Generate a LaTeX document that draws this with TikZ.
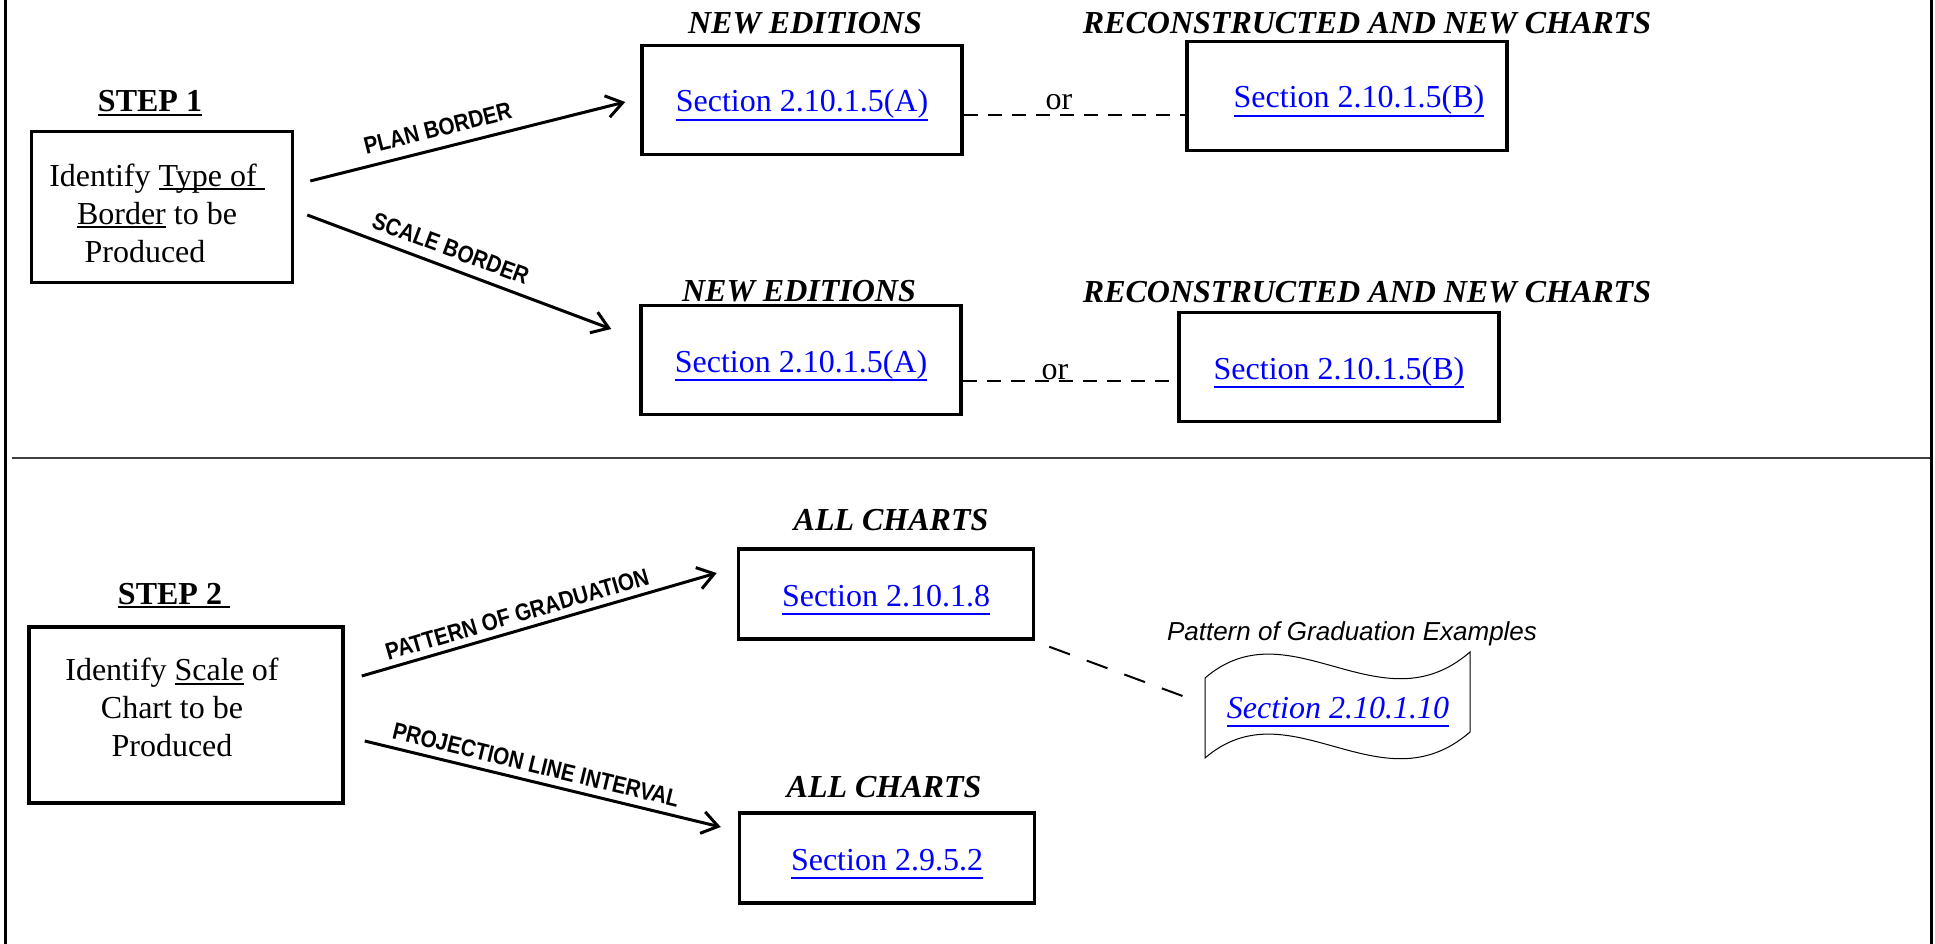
\documentclass[tikz,border=0pt]{standalone}
\usepackage{fontspec}
\setmainfont{Liberation Serif}
\newfontfamily\arrowfont[FakeStretch=0.86]{Liberation Sans}
\newfontfamily\notefont{Liberation Sans}
\usepackage{tikz}
\usetikzlibrary{arrows.meta}

\definecolor{linkblue}{RGB}{0,0,255}
\newcommand{\undl}[2][4pt]{\leavevmode\setbox0=\hbox{#2}\rlap{\rule[-#1]{\wd0}{1.8pt}}\box0\relax}
\newcommand{\seclink}[1]{\textcolor{linkblue}{\undl[9pt]{#1}}}

\begin{document}
\begin{tikzpicture}[x=1pt,y=-1pt,
    secbox/.style={draw,line width=3.5pt,minimum width=320pt,minimum height=109pt,
      text height=27pt,text depth=3pt,font=\fontsize{32}{38}\selectfont},
    smallbox/.style={secbox,minimum width=295pt,minimum height=90pt},
    stepbox/.style={draw,line width=3.5pt},
    steptext/.style={align=center,text depth=0pt,font=\fontsize{32}{38}\selectfont},
    head/.style={anchor=base,font=\fontsize{32}{38}\selectfont\bfseries\itshape},
    steplabel/.style={anchor=base,font=\fontsize{32}{38}\selectfont\bfseries},
    flow/.style={line width=3pt,-{Straight Barb[length=16pt,width=22pt]}},
    lbl/.style={sloped,above=#1,inner sep=0pt,font=\arrowfont\bfseries\fontsize{24}{24}\selectfont},
    lbl/.default=8pt,
    orline/.style={line width=2pt,dash pattern=on 14pt off 10pt}]

  \useasboundingbox (0,0) rectangle (1935,944);

  % frame
  \draw[line width=3pt] (5,0) -- (5,944) (1931,0) -- (1931,944);
  \draw[line width=1.5pt,black!75] (12,458) -- (1930,458);

  % step 1
  \node[steplabel] (s1) at (150,112) {\undl{STEP 1}};
  \node[stepbox,minimum width=261pt,minimum height=151pt] (step1) at (162,207) {};
  \node[steptext,text height=110pt] (step1txt) at ([xshift=-5pt]step1.center)
    {Identify \undl{Type of\ }\\\undl{Border} to be\\Produced\hspace*{24pt}};

  \node[secbox] (secA1) at (802,100) {\seclink{Section 2.10.1.5(A)}};
  \node[secbox] (secB1) at (1347,96) {\hspace{24pt}\seclink{Section 2.10.1.5(B)}};
  \node[secbox] (secA2) at (801,360) {\seclink{Section 2.10.1.5(A)}};
  \node[secbox] (secB2) at (1339,367) {\seclink{Section 2.10.1.5(B)}};

  \node[head] (hA1) at (805,34) {NEW EDITIONS};
  \node[head] (hB1) at (1367,34) {RECONSTRUCTED AND NEW CHARTS};
  \node[head] (hA2) at (799,301) {NEW EDITIONS};
  \node[head] (hB2) at (1367,302) {RECONSTRUCTED AND NEW CHARTS};

  \draw[flow] ([shift={(16,-26)}]step1.east) -- node[lbl=10pt,pos=.42]{PLAN BORDER} ([shift={(-15,2)}]secA1.west);
  \draw[flow] ([shift={(13,8)}]step1.east) -- node[lbl=9pt,pos=.45]{SCALE BORDER} ([shift={(-28,-31)}]secA2.west);

  \foreach \a/\b/\s/\o in {secA1/secB1/15/4,secA2/secB2/21/0}
    \draw[orline] ([yshift=-\s pt]\a.east) -- node[pos=.43,above=\o pt,inner sep=0pt,font=\fontsize{32}{38}\selectfont] (or-\a) {or}
      ([yshift=-\s pt]\a.east -| \b.west);

  % step 2
  \node[steplabel] (s2) at (174,604) {\undl{STEP 2\ }};
  \node[stepbox,minimum width=314pt,minimum height=176pt] (step2) at (186,715) {};
  \node[steptext,text height=83pt] (step2txt) at ([xshift=-14pt]step2.center)
    {Identify \undl{Scale} of\\Chart to be\\Produced};

  \node[smallbox] (secC1) at (886,594) {\seclink{Section 2.10.1.8}};
  \node[smallbox] (secC2) at (887,858) {\seclink{Section 2.9.5.2}};
  \node[head] (hC1) at (891,530) {ALL CHARTS};
  \node[head] (hC2) at (884,797) {ALL CHARTS};

  \draw[flow] ([shift={(17,-39)}]step2.east) -- node[lbl=6pt,pos=.45]{PATTERN OF GRADUATION} ([shift={(-20,-21)}]secC1.west);
  \draw[flow] ([shift={(20,26)}]step2.east) -- node[lbl=7pt,pos=.47]{PROJECTION LINE INTERVAL} ([shift={(-17,-31)}]secC2.west);

  % examples sheet
  \draw[line width=1pt] (1205,678) .. controls (1290,605) and (1380,730) .. (1470,652) -- (1470,732)
    .. controls (1380,810) and (1290,685) .. (1205,758) -- cycle;
  \node[anchor=base,font=\fontsize{32}{38}\selectfont\itshape] (doc) at (1338,718) {\seclink{Section 2.10.1.10}};
  \node[anchor=base,font=\notefont\itshape\fontsize{26}{26}\selectfont] (docnote) at (1352,640) {Pattern of Graduation Examples};
  \coordinate (docin) at (1188,698);
  \draw[line width=2pt,dash pattern=on 22pt off 18pt] ([shift={(14,6)}]secC1.south east) -- (docin);
\end{tikzpicture}
\end{document}
